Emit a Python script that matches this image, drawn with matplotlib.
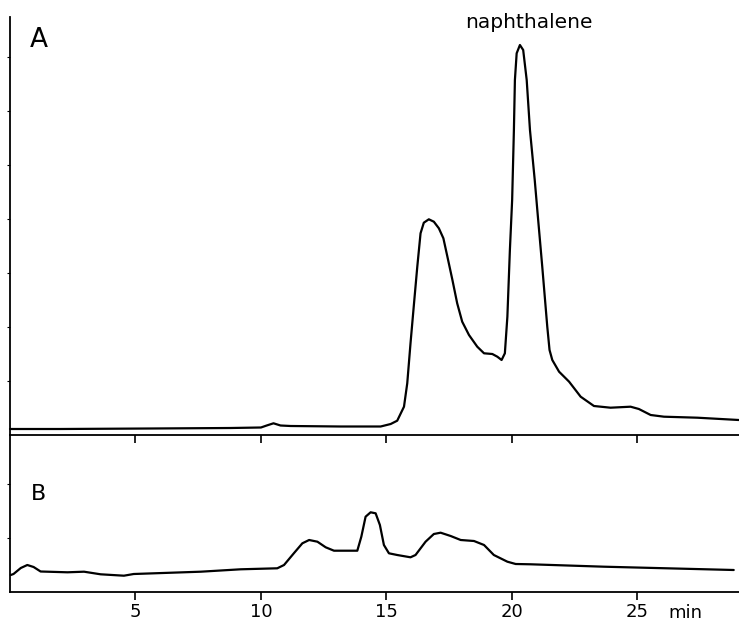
import matplotlib
matplotlib.use("Agg")
import matplotlib.pyplot as plt

# ---- data (time in min, detector signal in arbitrary units) ----
time_a = [0.0, 2.0, 5.6, 8.8, 10.0, 10.23, 10.5, 10.78, 11.18, 13.17, 14.77, 15.17, 15.43,
          15.70, 15.83, 15.96, 16.10, 16.23, 16.36, 16.49, 16.69, 16.89, 17.09, 17.27,
          17.43, 17.63, 17.82, 18.02, 18.29, 18.62, 18.89, 19.22, 19.42, 19.59, 19.72,
          19.82, 19.92, 20.01, 20.08, 20.12, 20.19, 20.32, 20.45, 20.59, 20.72, 20.91,
          21.03, 21.21, 21.41, 21.50, 21.61, 21.88, 22.28, 22.74, 23.27, 23.93, 24.73,
          25.06, 25.53, 26.06, 27.39, 29.04]
signal_a = [6, 6, 6.5, 7, 7.5, 9.5, 11.7, 9.5, 9, 8.5, 8.5, 11, 14.3,
            28.3, 51.7, 91.7, 131.7, 168.3, 201.7, 212.3, 215.7, 213.3, 206.7, 196.7,
            178.3, 155, 131.7, 113.3, 100, 88.3, 81.7, 81, 78.3, 75, 81.7,
            118.3, 185, 235, 305, 355, 381.7, 390, 385, 355, 305, 255,
            220, 168.3, 108.3, 85, 75, 63.3, 53.3, 38.3, 29, 27.3, 28.3,
            26, 20, 18.3, 17.3, 15]

time_b = [0.03, 0.14, 0.43, 0.69, 0.94, 1.22, 2.29, 2.95, 3.61, 4.54, 4.93, 7.60, 9.19,
          10.65, 10.92, 11.31, 11.65, 11.92, 12.25, 12.58, 12.91, 13.84, 14.00, 14.17,
          14.37, 14.57, 14.74, 14.90, 15.10, 15.43, 15.96, 16.16, 16.56, 16.89, 17.16,
          17.56, 17.96, 18.49, 18.89, 19.28, 19.82, 20.15, 20.75, 23.67, 28.84]
signal_b = [17, 18, 24, 27, 25, 20.5, 19.7, 20.3, 17.7, 16.3, 18, 20.3, 22.7,
            23.7, 27, 38.7, 48.7, 52, 50.3, 44.7, 41.3, 41.3, 55.3, 75.3,
            79.7, 78.7, 67, 47, 38.7, 37, 34.7, 37, 50.3, 58, 59.3,
            56, 52, 51, 47, 37, 30.3, 28, 27.7, 25.3, 22]

x_ticks = [5, 10, 15, 20, 25]
x_tick_labels = ["5", "10", "15", "20", "25"]
panel_labels = ["A", "B"]
peak_label = "naphthalene"
peak_time = 20.67
unit_label = "min"

# ---- figure ----
W, H = 739, 622
fig = plt.figure(figsize=(W / 100, H / 100), dpi=100)
fig.patch.set_facecolor("white")

left = 10 / W
width = 1 - left
axA = fig.add_axes([left, 1 - 435 / H, width, (435 - 17) / H])
axB = fig.add_axes([left, 1 - 592 / H, width, (592 - 435) / H])

xlim = (0, 29.05)
lw_trace = 1.6
lw_axis = 1.3

for ax in (axA, axB):
    ax.set_xlim(*xlim)
    for s in ("top", "right"):
        ax.spines[s].set_visible(False)
    for s in ("left", "bottom"):
        ax.spines[s].set_linewidth(lw_axis)
    ax.set_xticks(x_ticks)
    ax.tick_params(axis="x", direction="out", length=6, width=1.2, pad=2)
    ax.tick_params(axis="y", direction="out", length=2.5, width=0.8, labelleft=False)
    ax.patch.set_alpha(0)

axA.set_ylim(0, 418)
axB.set_ylim(0, 157)
axA.set_yticks([54, 108, 162, 216, 270, 324, 378])
axB.set_yticks([54, 108])

axA.plot(time_a, signal_a, color="black", lw=lw_trace, solid_joinstyle="round",
         solid_capstyle="round", clip_on=False)
axB.plot(time_b, signal_b, color="black", lw=lw_trace, solid_joinstyle="round",
         solid_capstyle="round", clip_on=False)

axA.set_xticklabels([])
axB.set_xticklabels(x_tick_labels, fontsize=13)

axA.text(1.14, 395, panel_labels[0], fontsize=19, ha="center", va="center")
axB.text(1.14, 98, panel_labels[1], fontsize=16, ha="center", va="center")
axA.text(peak_time, 412, peak_label, fontsize=14.5, ha="center", va="center", clip_on=False)
axB.text(26.9, -0.135, unit_label, fontsize=13, ha="center", va="center",
         transform=axB.get_xaxis_transform(), clip_on=False)

fig.savefig("out.png", dpi=100, facecolor="white")
